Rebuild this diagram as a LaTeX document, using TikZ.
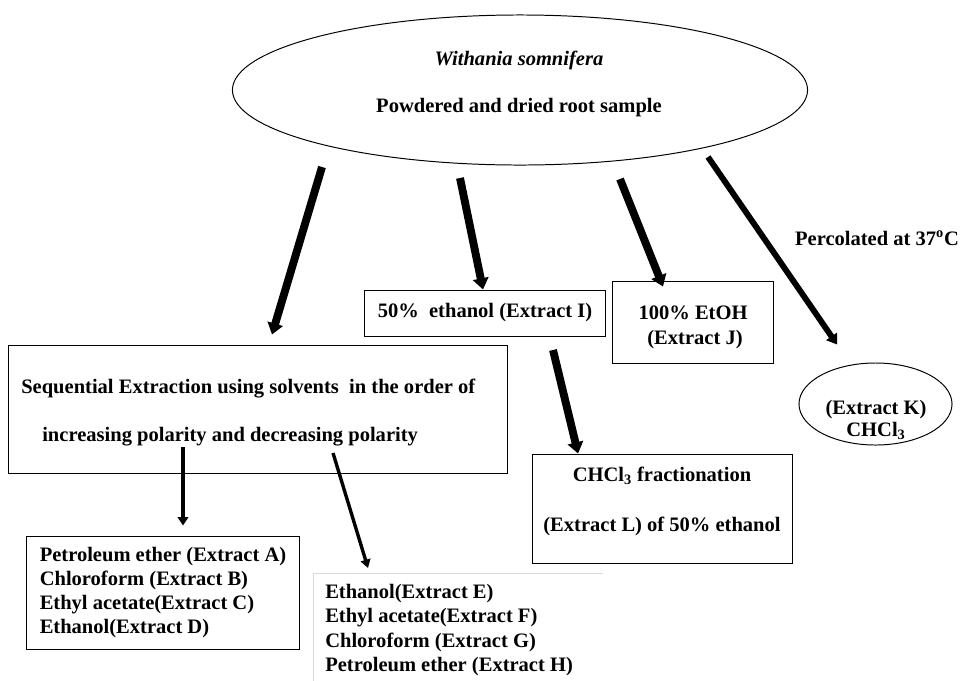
\documentclass[tikz,border=0pt]{standalone}
\usepackage{fontspec}
\setmainfont{Liberation Serif}
\usetikzlibrary{arrows.meta, calc, shapes.geometric, positioning}

\begin{document}
\begin{tikzpicture}[x=0.025cm, y=-0.025cm,
    txt/.style={font=\fontsize{14.6}{17}\selectfont\bfseries, inner sep=0pt},
    box/.style={draw, line width=0.7pt, txt},
    oval/.style={draw, ellipse, line width=0.7pt, inner sep=0pt},
    bigarrow/.style={line width=5.6pt, -{Triangle[width=11pt, length=8pt]}},
    midarrow/.style={line width=4.2pt, -{Triangle[width=9pt, length=7pt]}},
    thinarrow/.style={line width=2.8pt, -{Triangle[width=7.5pt, length=6pt]}},
    hairarrow/.style={line width=2.4pt, -{Triangle[width=7pt, length=6pt]}}]
        \useasboundingbox (0,0) rectangle (960,680);
        % Root sample
        \node[oval, minimum width=14.375cm, minimum height=3.75cm] (root) at (520,90) {};
        \node[txt, align=center] (rootTxt) at (519,84)
          {\itshape Withania somnifera\\[16.4pt] Powdered and dried root sample};
        % Extraction boxes
        \node[box, minimum width=6cm, minimum height=1.15cm] (ethI) at (485,313)
          {50\%~ ethanol (Extract I)\hspace{0.25cm}};
        \node[box, minimum width=4cm, minimum height=2.05cm] (ethJ) at (693,322) {};
        \node[txt, align=center] (ethJTxt) at (693,327)
          {100\% EtOH\\[0.8pt]\hspace{0.1cm}(Extract J)};
        \node[box, minimum width=12.45cm, minimum height=3.2cm] (seq) at (258,409) {};
        \node[txt, anchor=west] (seqA) at (21,389)
          {Sequential Extraction using solvents~ in the order of};
        \node[txt, anchor=west] (seqB) at (42,437)
          {increasing polarity and decreasing polarity};
        \node[box, minimum width=6.475cm, minimum height=2.725cm] (fracL) at (662.5,508.5) {};
        \node[txt, align=center] (fracLTxt) at (662,501)
          {CHCl\textsubscript{3} fractionation\\[18.6pt](Extract L) of 50\% ethanol};
        \node[oval, minimum width=3.825cm, minimum height=2.05cm] (extK) at (875.5,404) {};
        \node[txt, align=center] (extKTxt) at (876,420) {(Extract K)\\[-1.4pt]CHCl\textsubscript{3}};
        \node[txt] (perc) at (877,238) {Percolated at 37\textsuperscript{o}C};
        % Solvent series
        \node[box, minimum width=6.8cm, minimum height=2.825cm, align=left] (serAD) at (163,592.5)
          {Petroleum ether (Extract A)\\Chloroform (Extract B)\\Ethyl acetate(Extract C)\\Ethanol(Extract D)};
        \node[txt, anchor=west, align=left, font=\fontsize{14.6}{17.2}\selectfont\bfseries] (serEH) at (325,630)
          {Ethanol(Extract E)\\Ethyl acetate(Extract F)\\Chloroform (Extract G)\\Petroleum ether (Extract H)};
        \draw[black!15, line width=0.6pt] (313,690) |- (603,573);
        % Arrows
        \coordinate (r1) at (322,167);
        \coordinate (r2) at (460,178);
        \coordinate (r3) at (620,179);
        \coordinate (r4) at (708,157);
        \coordinate (i1) at (553,350);
        \coordinate (q1) at (183,447);
        \coordinate (q2) at (333,453);
        \coordinate (e1) at (368,568);
        \draw[bigarrow] (r1) -- ([xshift=0.35cm, yshift=0.25cm]seq.north);
        \draw[bigarrow] (r2) -- ([xshift=-0.05cm]ethI.north);
        \draw[bigarrow] (r3) -- ([xshift=-0.75cm, yshift=-0.15cm]ethJ.north);
        \draw[midarrow] (r4) -- ([xshift=-0.96cm, yshift=0.45cm]extK.north);
        \draw[bigarrow] (i1) -- ([xshift=-2.11cm]fracL.north);
        \draw[thinarrow] (q1) -- ([xshift=0.5cm, yshift=0.25cm]serAD.north);
        \draw[hairarrow] (q2) -- (e1);
\end{tikzpicture}
\end{document}
